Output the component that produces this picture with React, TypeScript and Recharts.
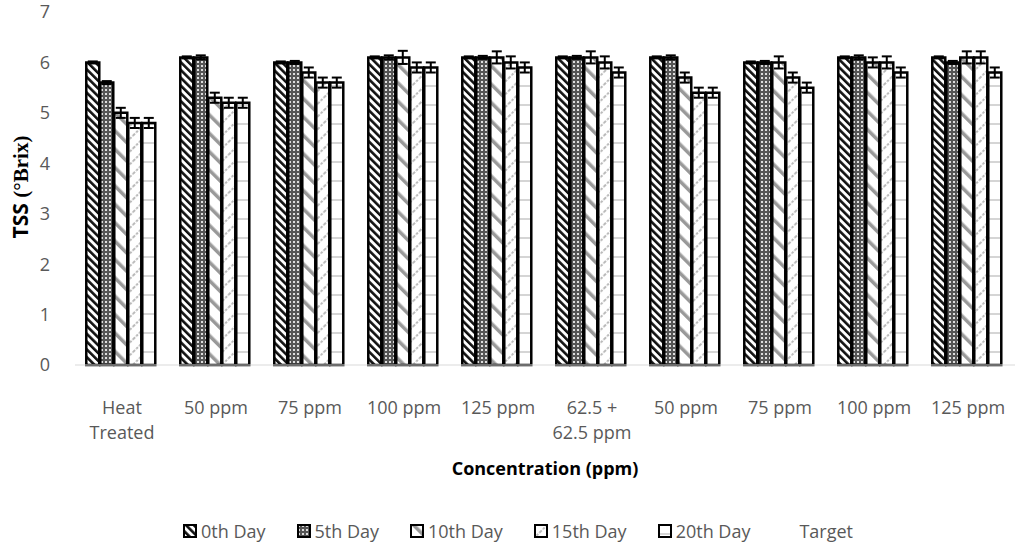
import React from 'react';
import { BarChart, Bar, XAxis, YAxis, ErrorBar, Legend, Label } from 'recharts';

const categoryLabels: string[][] = [
  ['Heat', 'Treated'],
  ['50 ppm'],
  ['75 ppm'],
  ['100 ppm'],
  ['125 ppm'],
  ['62.5 +', '62.5 ppm'],
  ['50 ppm'],
  ['75 ppm'],
  ['100 ppm'],
  ['125 ppm'],
];
const categories = categoryLabels.map((l) => l.join(' '));

const seriesNames = ['0th Day', '5th Day', '10th Day', '15th Day', '20th Day'];
const day0 = [6.0, 6.1, 6.0, 6.1, 6.1, 6.1, 6.1, 6.0, 6.1, 6.1];
const day5 = [5.6, 6.1, 6.0, 6.1, 6.1, 6.1, 6.1, 6.0, 6.1, 6.0];
const day10 = [5.0, 5.3, 5.8, 6.1, 6.1, 6.1, 5.7, 6.0, 6.0, 6.1];
const day15 = [4.8, 5.2, 5.6, 5.9, 6.0, 6.0, 5.4, 5.7, 6.0, 6.1];
const day20 = [4.8, 5.2, 5.6, 5.9, 5.9, 5.8, 5.4, 5.5, 5.8, 5.8];
const err0 = [0.02, 0.02, 0.02, 0.02, 0.02, 0.02, 0.02, 0.02, 0.02, 0.02];
const err5 = [0.03, 0.04, 0.03, 0.04, 0.03, 0.03, 0.04, 0.03, 0.04, 0.03];
const err10 = [0.1, 0.1, 0.1, 0.13, 0.12, 0.12, 0.1, 0.12, 0.1, 0.12];
const err15 = [0.1, 0.1, 0.1, 0.1, 0.12, 0.12, 0.1, 0.1, 0.12, 0.12];
const err20 = [0.1, 0.1, 0.1, 0.1, 0.1, 0.1, 0.1, 0.1, 0.1, 0.1];
const yTicks = [0, 1, 2, 3, 4, 5, 6, 7];
const extraLegend = 'Target';

const values = [day0, day5, day10, day15, day20];
const errors = [err0, err5, err10, err15, err20];
const patternIds = ['pat0', 'pat5', 'pat10', 'pat15', 'pat20'];

const data = categories.map((name, i) => {
  const row: Record<string, any> = { name, idx: i };
  values.forEach((v, s) => {
    row['s' + s] = v[i];
    row['e' + s] = errors[s][i];
  });
  return row;
});

const FONT = '"Open Sans", "Liberation Sans", sans-serif';
const GREY = '#595959';

const Patterns = () => (
  <defs>
    <pattern id="pat0" patternUnits="userSpaceOnUse" width="5.5" height="5.5" patternTransform="rotate(-45)">
      <rect width="5.5" height="5.5" fill="#fff" />
      <rect x="0" y="0" width="2.6" height="5.5" fill="#111" />
    </pattern>
    <pattern id="pat5" patternUnits="userSpaceOnUse" width="4" height="4">
      <rect width="4" height="4" fill="#555" />
      <rect x="1" y="1" width="2" height="2" fill="#ddd" />
    </pattern>
    <pattern id="pat10" patternUnits="userSpaceOnUse" width="13" height="13" patternTransform="rotate(-45)">
      <rect width="13" height="13" fill="#fff" />
      <rect x="0" y="0" width="3.5" height="13" fill="#999" />
    </pattern>
    <pattern id="pat15" patternUnits="userSpaceOnUse" width="9" height="9" patternTransform="rotate(45)">
      <rect width="9" height="9" fill="#fff" />
      <line x1="1" y1="0" x2="1" y2="9" stroke="#aaa" strokeWidth="1.6" strokeDasharray="2.5 1.5" />
    </pattern>
    <pattern id="pat20" patternUnits="userSpaceOnUse" width="8" height="19">
      <rect width="8" height="19" fill="#fff" />
      <line x1="0" y1="10" x2="8" y2="10" stroke="#c8c8c8" strokeWidth="1.5" />
    </pattern>
  </defs>
);

const XTick = (props: any) => {
  const { x, y, index } = props;
  const lines = categoryLabels[index] || [];
  return (
    <g>
      {lines.map((ln, k) => (
        <text
          key={k}
          x={x}
          y={y + 41 + k * 25}
          textAnchor="middle"
          fontFamily={FONT}
          fontSize={18}
          fill={GREY}
        >
          {ln}
        </text>
      ))}
    </g>
  );
};

const LegendContent = () => (
  <div
    style={{
      display: 'flex',
      justifyContent: 'center',
      alignItems: 'center',
      gap: 31,
      fontFamily: FONT,
      fontSize: 18,
      color: GREY,
      paddingLeft: 6,
      height: 30,
    }}
  >
    {seriesNames.map((n, s) => (
      <div key={n} style={{ display: 'flex', alignItems: 'center' }}>
        <svg width={14} height={14} style={{ marginRight: 4 }}>
          <rect x={1} y={1} width={12} height={12} fill={`url(#${patternIds[s]})`} stroke="#000" strokeWidth={2} />
        </svg>
        <span>{n}</span>
      </div>
    ))}
    <div style={{ display: 'flex', alignItems: 'center' }}>
      <div style={{ width: 18 }} />
      <span>{extraLegend}</span>
    </div>
  </div>
);

export default function App() {
  return (
    <div style={{ position: 'absolute', left: 0, top: 0, background: '#fff' }}>
      <BarChart
        width={1021}
        height={546}
        data={data}
        margin={{ top: 12, right: 6, left: 15, bottom: 0 }}
        barCategoryGap="12%"
        barGap={1}
      >
        <Patterns />
        <XAxis
          dataKey="name"
          height={151}
          axisLine={{ stroke: '#d9d9d9', strokeWidth: 1 }}
          tickLine={false}
          tick={<XTick />}
          interval={0}
        >
          <Label
            content={() => (
              <text x={545} y={475} textAnchor="middle" fontFamily={FONT} fontSize={18} fontWeight="bold" fill="#000">
                Concentration (ppm)
              </text>
            )}
          />
        </XAxis>
        <YAxis
          domain={[0, 7]}
          ticks={yTicks}
          width={60}
          axisLine={false}
          tickLine={false}
          tickSize={0}
          tickMargin={25}
          tick={{ fontFamily: FONT, fontSize: 18, fill: GREY }}
        >
          <Label
            content={() => (
              <text
                x={28}
                y={187}
                transform="rotate(-90 28 187)"
                textAnchor="middle"
                fontSize={21}
                fontWeight="bold"
                fill="#000"
              >
                <tspan fontFamily={FONT}>TSS </tspan>
                <tspan fontFamily='"Liberation Serif", "DejaVu Serif", serif'>(°Brix)</tspan>
              </text>
            )}
          />
        </YAxis>
        <Legend verticalAlign="bottom" height={30} content={<LegendContent />} />
        {seriesNames.map((n, s) => (
          <Bar
            key={n}
            name={n}
            dataKey={'s' + s}
            fill={`url(#${patternIds[s]})`}
            stroke="#000"
            strokeWidth={2.5}
            isAnimationActive={false}
          >
            <ErrorBar dataKey={'e' + s} width={5} stroke="#000" strokeWidth={2} direction="y" />
          </Bar>
        ))}
      </BarChart>
    </div>
  );
}
